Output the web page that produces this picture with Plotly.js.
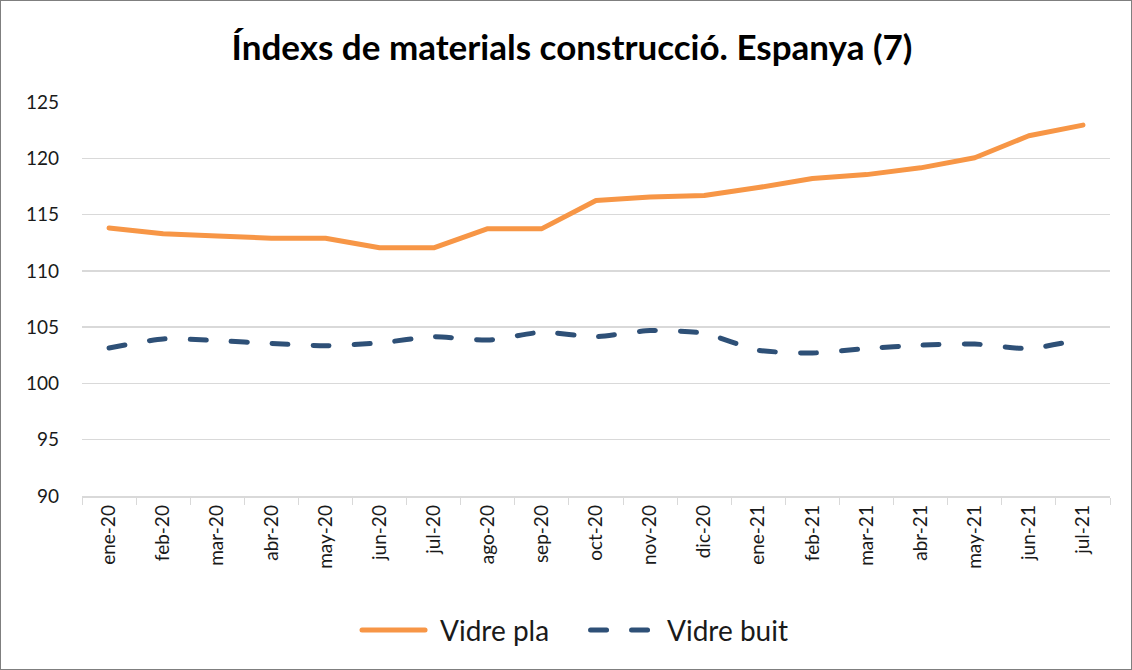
<!DOCTYPE html>
<html>
<head>
<meta charset="utf-8">
<script src="https://cdn.plot.ly/plotly-3.0.1.min.js"></script>
<style>
html,body{margin:0;padding:0;background:#fff;}
#wrap{position:relative;width:1132px;height:670px;}
#chart{width:1132px;height:670px;}
#frame{position:absolute;left:0;top:0;width:1132px;height:670px;box-sizing:border-box;border:1px solid #7f7f7f;pointer-events:none;}
#chart path.js-line, #chart .shapelayer path{stroke-linecap:round !important;stroke-linejoin:round !important;}
</style>
</head>
<body>
<div id="wrap"><div id="chart"></div><div id="frame"></div></div>
<script>
const months = ["ene-20","feb-20","mar-20","abr-20","may-20","jun-20","jul-20","ago-20","sep-20","oct-20","nov-20","dic-20","ene-21","feb-21","mar-21","abr-21","may-21","jun-21","jul-21"];
const vidrePla = [113.8,113.3,113.1,112.9,112.9,112.05,112.05,113.75,113.75,116.25,116.55,116.7,117.4,118.2,118.55,119.15,120.05,122.0,122.95];
const vidreBuit = [103.15,103.95,103.8,103.55,103.35,103.6,104.15,103.85,104.55,104.15,104.7,104.45,102.95,102.7,103.1,103.4,103.5,103.1,103.95];
const yTicks = [90,95,100,105,110,115,120,125];
const seriesNames = ["Vidre pla","Vidre buit"];
const colors = ["#F79646","#2E5077"];

const FONT = "Lato, 'Open Sans', sans-serif";
const DASH = "16px,25px";

const traces = [
  {x: months, y: vidrePla, name: seriesNames[0], type: "scatter", mode: "lines",
   line: {color: colors[0], width: 5}},
  {x: months, y: vidreBuit, name: seriesNames[1], type: "scatter", mode: "lines",
   line: {color: colors[1], width: 5, dash: DASH, shape: "spline", smoothing: 0.6}}
];

const legY = -0.34;
const layout = {
  width: 1132, height: 670,
  paper_bgcolor: "#fff", plot_bgcolor: "#fff",
  margin: {l: 82, r: 22, t: 102, b: 174},
  title: {text: "Índexs de materials construcció. Espanya (7)", x: 0.5053, xanchor: "center", y: 0.928, yanchor: "middle",
          font: {family: FONT, size: 35, color: "#000", weight: "bold"}},
  xaxis: {type: "category", range: [-0.5, months.length - 0.5], tickangle: -90, showgrid: false, showline: true,
          linecolor: "#d9d9d9", linewidth: 1.5,
          ticks: "outside", tickson: "boundaries", ticklen: 7, tickcolor: "#d9d9d9",
          tickfont: {family: FONT, size: 19, color: "#1a1a1a"}, fixedrange: true},
  yaxis: {range: [90, 125], tickvals: yTicks, showgrid: true, gridcolor: "#d9d9d9", gridwidth: 1.5,
          zeroline: false, showline: false, ticks: "", ticklabelstandoff: 22,
          tickfont: {family: FONT, size: 19, color: "#1a1a1a"}, fixedrange: true},
  showlegend: false,
  shapes: [
    {type: "line", xref: "paper", yref: "paper", x0: 0.2724, x1: 0.3337, y0: legY, y1: legY,
     line: {color: colors[0], width: 5}},
    {type: "line", xref: "paper", yref: "paper", x0: 0.4947, x1: 0.5525, y0: legY, y1: legY,
     line: {color: colors[1], width: 5, dash: DASH}}
  ],
  annotations: [
    {text: seriesNames[0], xref: "paper", yref: "paper", x: 0.3463, y: legY, xanchor: "left", yanchor: "middle",
     showarrow: false, font: {family: FONT, size: 28, color: "#1a1a1a"}},
    {text: seriesNames[1], xref: "paper", yref: "paper", x: 0.5671, y: legY, xanchor: "left", yanchor: "middle",
     showarrow: false, font: {family: FONT, size: 28, color: "#1a1a1a"}}
  ]
};

Plotly.newPlot("chart", traces, layout, {displayModeBar: false, staticPlot: true});
</script>
</body>
</html>
